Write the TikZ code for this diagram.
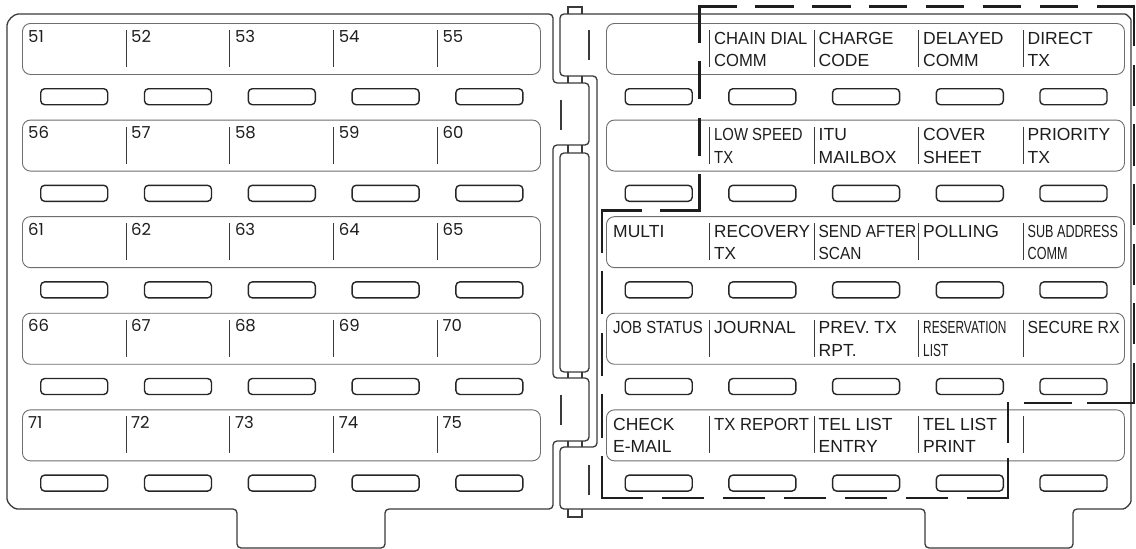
\documentclass[tikz,border=0pt]{standalone}
\usepackage{graphicx}
\usepackage{fontspec}
\setmainfont{Liberation Sans}
\newfontfamily\numfont{Poppins}
\definecolor{edge}{HTML}{3A3A3A}
\definecolor{stripc}{HTML}{6E6E6E}
\definecolor{keyc}{HTML}{262626}
\definecolor{ink}{HTML}{1E1E1E}
\begin{document}
\begin{tikzpicture}[x=1pt,y=-1pt,
  panel/.style={draw=edge, line width=1.3pt, line join=round},
  strip/.style={draw=stripc, line width=0.9pt, rounded corners=8pt, inner sep=0pt},
  keybox/.style={draw=keyc, line width=1.4pt, rounded corners=4pt, minimum width=67pt, minimum height=16pt, inner sep=0pt},
  divider/.style={draw=edge, line width=1pt},
  hinge/.style={draw=edge, line width=1.1pt},
  dashbox/.style={draw=ink, line width=2.6pt, line cap=rect},
  lbl/.style={anchor=base west, inner sep=0pt, text=ink, font=\fontsize{17.5}{20}\selectfont},
  num/.style={anchor=base west, inner sep=0pt, text=ink, font=\numfont\fontsize{16.5}{20}\selectfont},
]
\useasboundingbox (0,0) rectangle (1136,549);
\fill[white] (0,0) rectangle (1136,549);

% ---------- left panel outline ----------
\draw[panel, rounded corners=4pt]
  (237,509) -- (21,509) .. controls (13.3,509) and (7,502.7) .. (7,495)
  -- (7,29) .. controls (7,20.7) and (13.7,14) .. (22,14)
  -- (553,14) -- (553,83) -- (589,83) -- (589,145) -- (553,145)
  -- (553,378) -- (589,378) -- (589,441) -- (553,441) -- (553,509)
  -- (385,509) -- (385,548) -- (237,548) -- cycle;

% ---------- right panel outline ----------
\draw[panel, rounded corners=4pt]
  (925,509) -- (560,509) -- (560,447) -- (597,447) -- (597,76) -- (560,76)
  -- (560,14) -- (1121,14) .. controls (1126.5,14) and (1131,18.5) .. (1131,24)
  -- (1131,497) .. controls (1131,503.6) and (1125.6,509) .. (1119,509)
  -- (1073,509) -- (1073,548) -- (925,548) -- cycle;

% ---------- hinge ----------
\draw[panel, rounded corners=4pt] (560,153) rectangle (589,372);
\draw[hinge] (568,14) -- (568,7) -- (582,7) -- (582,14);
\draw[hinge] (568,509) -- (568,517) -- (582,517) -- (582,509);
\foreach \ya/\yb in {76/83, 145/153, 372/378, 441/447}{
  \draw[hinge] (568,\ya) -- (568,\yb) (582,\ya) -- (582,\yb);
}
\draw[hinge] (589,30) -- (589,60);
\draw[hinge] (561,100) -- (561,130);
\draw[hinge] (561,395) -- (561,425);
\draw[hinge] (589,465) -- (589,495);

% ---------- strips, keys, dividers ----------
\foreach \r in {0,...,4}{
  \pgfmathsetmacro\st{23+96.6*\r}
  \pgfmathsetmacro\kt{88+96.6*\r}
  \node[strip, anchor=north west, minimum width=518pt, minimum height=51pt] (sL\r) at (22,\st) {};
  \node[strip, anchor=north west, minimum width=518pt, minimum height=51pt] (sR\r) at (606,\st) {};
  \foreach \c in {0,...,4}{
    \pgfmathsetmacro\kxl{40+103.8*\c}
    \pgfmathsetmacro\kxr{624.5+103.7*\c}
    \node[keybox, anchor=north west] (kL\r\c) at (\kxl,\kt) {};
    \node[keybox, anchor=north west] (kR\r\c) at (\kxr,\kt) {};
  }
  \foreach \c in {1,...,4}{
    \pgfmathsetmacro\dl{126+103.8*(\c-1)}
    \pgfmathsetmacro\dr{709.5+104.5*(\c-1)}
    \draw[divider] (\dl,\st+7) -- (\dl,\st+44);
    \draw[divider] (\dr,\st+7) -- (\dr,\st+44);
  }
}

% ---------- left numbers ----------
\foreach \r in {0,...,4}{
  \foreach \c in {0,...,4}{
    \pgfmathtruncatemacro\n{51+5*\r+\c}
    \pgfmathsetmacro\tx{\c==0 ? 28 : 131+103.8*(\c-1)}
    \pgfmathsetmacro\ty{23+96.6*\r+19}
    \node[num] (n\n) at (\tx,\ty) {\n};
  }
}

% ---------- right labels ----------
\foreach \c/\r/\la/\lb/\sc in {
 1/0/CHAIN DIAL/COMM/0.95, 2/0/CHARGE/CODE/1, 3/0/DELAYED/COMM/1, 4/0/DIRECT/TX/1,
 1/1/LOW SPEED/TX/0.85, 2/1/ITU/MAILBOX/1, 3/1/COVER/SHEET/1, 4/1/PRIORITY/TX/1,
 0/2/MULTI//1, 1/2/RECOVERY/TX/0.98, 2/2/SEND AFTER/SCAN/0.88, 3/2/POLLING//1, 4/2/SUB ADDRESS/COMM/0.72,
 0/3/JOB STATUS//0.85, 1/3/JOURNAL//1, 2/3/PREV. TX/RPT./1, 3/3/RESERVATION/LIST/0.68, 4/3/SECURE RX//0.9,
 0/4/CHECK/E-MAIL/1, 1/4/TX REPORT//0.95, 2/4/TEL LIST/ENTRY/1, 3/4/TEL LIST/PRINT/1}{
  \pgfmathsetmacro\tx{\c==0 ? 613 : 714+104.5*(\c-1)}
  \pgfmathsetmacro\ty{23+96.6*\r}
  \node[lbl] (ra\c\r) at (\tx,\ty+21) {\scalebox{\sc}[1]{\la}};
  \ifx\lb\empty\else
    \node[lbl] (rb\c\r) at (\tx,\ty+43.5) {\scalebox{\sc}[1]{\lb}};
  \fi
}

% ---------- dashed group outline ----------
\coordinate (d1) at (602,210.5);
\coordinate (d2) at (699.5,210.5);
\coordinate (d3) at (699.5,6.5);
\coordinate (d4) at (1133.8,6.5);
\coordinate (d5) at (1133.8,403);
\coordinate (d6) at (1008,403);
\coordinate (d7) at (1008,498);
\coordinate (d8) at (602,498);
\draw[dashbox, dash pattern=on 38.25pt off 21pt] (d1) -- (d2);
\draw[dashbox, dash pattern=on 35.25pt off 21pt] (d2) -- (d3);
\draw[dashbox, dash pattern=on 35.9pt off 21pt] (d3) -- (d4);
\draw[dashbox, dash pattern=on 38.6pt off 21pt] (d4) -- (d5);
\draw[dashbox, dash pattern=on 46pt off 17pt] (d5) -- (d6);
\draw[dashbox, dash pattern=on 39pt off 17pt] (d6) -- (d7);
\draw[dashbox, dash pattern=on 40pt off 21pt] (d7) -- (d8);
\draw[dashbox, dash pattern=on 40.7pt off 21pt] (d8) -- (d1);
\end{tikzpicture}
\end{document}
